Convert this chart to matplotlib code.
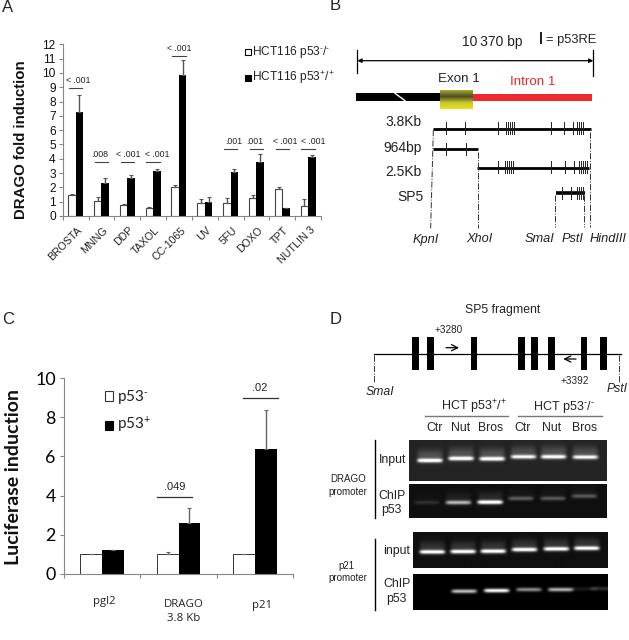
import numpy as np
from matplotlib import pyplot as plt
from matplotlib.patches import Rectangle
from matplotlib.colors import LinearSegmentedColormap
from matplotlib.transforms import blended_transform_factory

plt.rcParams['font.family'] = ['Liberation Sans', 'DejaVu Sans']
plt.rcParams['mathtext.fontset'] = 'custom'
plt.rcParams['mathtext.rm'] = 'Liberation Sans'
plt.rcParams['mathtext.it'] = 'Liberation Sans:italic'
plt.rcParams['mathtext.default'] = 'regular'

W, H = 629, 640

# panel A values
drugs = ['BROSTA', 'MNNG', 'DDP', 'TAXOL', 'CC-1065', 'UV', '5FU', 'DOXO', 'TPT', 'NUTLIN 3']
a_null = [1.5, 1.05, 0.8, 0.58, 2.0, 0.92, 0.92, 1.27, 1.92, 0.72]
a_null_err = [0.04, 0.25, 0.07, 0.06, 0.17, 0.25, 0.33, 0.2, 0.12, 0.5]
a_wt = [7.3, 2.3, 2.65, 3.15, 9.85, 1.0, 3.05, 3.8, 0.55, 4.1]
a_wt_err = [1.15, 0.35, 0.2, 0.15, 1.05, 0.35, 0.25, 0.5, 0.03, 0.17]
a_pvals = ['< .001', '.008', '< .001', '< .001', '< .001', '', '.001', '.001', '< .001', '< .001']
a_bracket = [8.92, 3.75, 3.75, 3.75, 11.18, None, 4.68, 4.68, 4.68, 4.68]
a_pval_nudge = [2, -1, 1, 3, 0, 0, 2, -1, 2, 4]

# panel C values
constructs = ['pgl2', 'DRAGO\n3.8 Kb', 'p21']
c_minus = [1, 1, 1]
c_minus_err = [0, 0.13, 0.03]
c_plus = [1.2, 2.6, 6.4]
c_plus_err = [0, 0.75, 2.0]
c_pvals = ['', '.049', '.02']
c_bracket = [None, 3.92, 8.97]
c_bracket_shift = [0, -0.05, 0.07]
c_label_shift = [2, 5, 7]
c_label_y = [-0.115, -0.13, -0.135]

# panel B p53RE sites, scale is pixels x3 of the crop
sites_38 = [347, 405, 503, 528, 535, 541, 547, 552, 662, 703, 728, 742, 748, 754, 760]
sites_964 = [349, 408]
sites_25 = [505, 525, 531, 537, 543, 549, 664, 706, 731, 747, 753, 759, 765, 770]
sites_sp5 = [697, 722, 742, 748, 754, 760]
sp5_boxes = [257, 302, 432, 575, 614, 664, 762, 820]

# gels: band centre x, band centre y, brightness
lanes_1 = [(300, 182, 0.9), (393, 176, 0.9), (486, 177, 0.9), (580, 171, 0.8), (670, 171, 0.85), (765, 172, 0.8)]
lanes_2 = [(290, 307, 0.12), (385, 307, 0.65), (480, 306, 1.0), (572, 295, 0.3), (668, 295, 0.28), (762, 288, 0.28)]
lanes_3 = [(305, 457, 0.95), (397, 456, 0.95), (487, 455, 0.95), (580, 450, 0.95), (675, 448, 0.95), (766, 446, 0.95)]
lanes_4 = [(400, 573, 0.75), (497, 571, 1.0), (593, 568, 0.55), (688, 568, 0.7), (760, 566, 0.1), (815, 565, 0.18)]


def px_axes(x0, y0, x1, y1):
    return fig.add_axes([x0 / W, 1 - y1 / H, (x1 - x0) / W, (y1 - y0) / H])


def style_axes(ax, n):
    ax.set_xlim(0, n)
    ax.set_xticks(range(n + 1))
    ax.set_xticklabels([])
    ax.spines['top'].set_visible(False)
    ax.spines['right'].set_visible(False)
    ax.spines['left'].set_color('#868686')
    ax.spines['bottom'].set_color('#868686')
    ax.tick_params(color='#868686', length=3)


fig = plt.figure(figsize=(W / 100, H / 100), dpi=100)

# A
ax = px_axes(62.7, 44.3, 321, 216)
x = np.arange(len(drugs)) + 0.5
bw = 0.29
err = dict(ecolor='#555555', elinewidth=1, capsize=1.2, capthick=0.8)
ax.bar(x - bw / 2, a_null, bw, color='white', edgecolor='#444444', linewidth=0.8,
       yerr=[np.zeros(10), a_null_err], error_kw=err)
ax.bar(x + bw / 2, a_wt, bw, color='black', yerr=[np.zeros(10), a_wt_err], error_kw=err)
style_axes(ax, len(drugs))
ax.set_ylim(0, 12)
ax.set_yticks(range(13))
ax.tick_params(axis='y', labelsize=8.6, pad=2, labelcolor='#111111')
for i in range(len(drugs)):
    ax.annotate(drugs[i], (x[i], 0), xytext=(1, -6.5), textcoords='offset points', rotation=45,
                ha='right', va='top', rotation_mode='anchor', fontsize=7.7, color='#222222')
    if a_bracket[i] is not None:
        ax.plot([x[i] - 0.26, x[i] + 0.26], [a_bracket[i]] * 2, c='#444444', lw=0.8)
        ax.annotate(a_pvals[i], (x[i], a_bracket[i]), xytext=(a_pval_nudge[i], 2.5), textcoords='offset points',
                    ha='center', va='bottom', fontsize=6.3, color='#222222')

# C
ax = px_axes(64, 378.3, 293, 573.7)
x = np.arange(len(constructs)) + 0.5
bw = 0.284
err = dict(ecolor='#666666', elinewidth=1, capsize=1.5, capthick=0.8)
ax.bar(x - bw / 2, c_minus, bw, color='white', edgecolor='#333333', linewidth=0.7,
       yerr=[np.zeros(3), c_minus_err], error_kw=err)
ax.bar(x + bw / 2, c_plus, bw, color='black', yerr=[np.zeros(3), c_plus_err], error_kw=err)
style_axes(ax, len(constructs))
ax.set_ylim(0, 10)
ax.set_yticks(range(0, 11, 2))
ax.tick_params(axis='y', labelsize=12.8, pad=3)
for t in ax.get_yticklabels():
    t.set_family('Lato')
trans = blended_transform_factory(ax.transData, ax.transAxes)
for i in range(len(constructs)):
    ax.annotate(constructs[i], (x[i], c_label_y[i]), xycoords=trans, xytext=(c_label_shift[i], 0),
                textcoords='offset pixels', ha='center', va='top', fontsize=8.2,
                family='Open Sans', color='#222222', linespacing=1.35)
    if c_bracket[i] is not None:
        xb = x[i] + c_bracket_shift[i]
        ax.plot([xb - 0.23, xb + 0.23], [c_bracket[i]] * 2, c='#333333', lw=0.9)
        ax.annotate(c_pvals[i], (xb, c_bracket[i]), xytext=(0, 4), textcoords='offset points',
                    ha='center', va='bottom', fontsize=8, color='#222222')

# everything else goes on one overlay in image pixels
ov = fig.add_axes([0, 0, 1, 1], zorder=5)
ov.patch.set_alpha(0)
ov.axis('off')

for lab, lx, ly in [('A', 2, 7), ('B', 330, 6), ('C', 2, 319), ('D', 330, 319)]:
    ov.text(lx, ly, lab, fontsize=12, ha='left', va='center', color='#222222')

ov.text(21.5, 140, 'DRAGO fold induction', rotation=90, fontweight='bold', fontsize=10.8, ha='center', va='center', color='#111111')
ov.text(14, 477, 'Luciferase induction', rotation=90, fontweight='bold', fontsize=14, ha='center', va='center',
        family='Lato', color='#111111')

# legends
minus = r'$^{\text{-}}$'
plus = r'$^{+}$'
ov.add_patch(Rectangle((245, 49), 5.5, 6, fc='white', ec='black', lw=0.8))
ov.add_patch(Rectangle((245, 75), 5.5, 5.5, fc='black', ec='black', lw=0.8))
ov.text(252, 52.5, 'HCT116 p53' + minus + '/' + minus, fontsize=8.6, va='center', color='#222222')
ov.text(252, 78, 'HCT116 p53' + plus + '/' + plus, fontsize=8.6, va='center', color='#222222')
ov.add_patch(Rectangle((105, 391), 7.5, 9.5, fc='white', ec='#333333', lw=0.8))
ov.add_patch(Rectangle((105, 421), 7.5, 9, fc='black', ec='black', lw=0.8))
ov.text(117, 396.5, 'p53' + minus, fontsize=11, va='center', family='Lato', color='#222222')
ov.text(117, 425, 'p53' + plus, fontsize=11, va='center', family='Lato', color='#222222')


# B, coordinates from the 3x crop
def bx(v):
    return 330 + v / 3


ov.annotate('', (bx(790), 60.7), (bx(82), 60.7), arrowprops=dict(arrowstyle='<|-|>', color='black', lw=0.9, mutation_scale=6, shrinkA=0, shrinkB=0))
ov.plot([bx(82)] * 2, [49.5, 72.5], c='black', lw=0.9)
ov.plot([bx(790)] * 2, [49.5, 76], c='black', lw=0.9)
ov.text(bx(488), 41.7, '10\u2009370 bp', fontsize=10, ha='center', va='center', color='#222222')
ov.add_patch(Rectangle((bx(629), 32), 2, 12, fc='#222222', ec='none'))
ov.text(bx(648), 40, '= p53RE', fontsize=9.3, ha='left', va='center', color='#222222')

ov.add_patch(Rectangle((bx(78), 93.3), (330 - 78) / 3, 7.4, fc='black', ec='none'))
ov.plot([bx(195), bx(225)], [93.3, 100.7], c='white', lw=1)
ov.add_patch(Rectangle((bx(427), 94), (785 - 427) / 3, 6.5, fc='#ee2a2e', ec='none'))
exon_cmap = LinearSegmentedColormap.from_list('exon', ['#a8a82a', '#4a4a28', '#c9c62a', '#e6e31f'])
ov.imshow(np.linspace(0, 1, 40).reshape(-1, 1), cmap=exon_cmap, aspect='auto', extent=(bx(330), bx(427), 109, 90), zorder=3)
ov.text(bx(387), 78.7, 'Exon 1', fontsize=9.6, ha='center', va='center', color='#222222')
ov.text(bx(607), 82, 'Intron 1', fontsize=9.6, ha='center', va='center', color='#e8262b')

fragments = [('3.8Kb', 275, 367, 310, 782, 386, sites_38, 367, 402),
             ('964bp', 275, 445, 310, 445, 448, sites_964, 430, 465),
             ('2.5Kb', 275, 517, 442, 778, 503, sites_25, 483, 520),
             ('SP5', 282, 592, 677, 765, 579, sites_sp5, 560, 597)]
for name, tx, ty, x0, x1, ly, sites, t0, t1 in fragments:
    ov.text(bx(tx), ty / 3, name, fontsize=10, ha='right', va='center', color='#222222')
    ov.plot([bx(x0), bx(x1)], [ly / 3, ly / 3], c='black', lw=2 if name != 'SP5' else 2.6, solid_capstyle='butt')
    for s in sites:
        ov.plot([bx(s), bx(s)], [t0 / 3, t1 / 3], c='#222222', lw=0.7)

for xa, ya, xb, yb in [(310, 390, 302, 685), (443, 455, 443, 685), (676, 585, 676, 680), (763, 585, 763, 680), (779, 395, 779, 680)]:
    ov.plot([bx(xa), bx(xb)], [ya / 3, yb / 3], c='#333333', lw=0.7, ls='-.')
for name, cx in [('KpnI', 287), ('XhoI', 447), ('SmaI', 628), ('PstI', 728), ('HindIII', 834)]:
    ov.text(bx(cx), 239.5, name, fontsize=9.2, style='italic', ha='center', va='center', color='#222222')

# D top scheme
ov.text(503, 310, 'SP5 fragment', fontsize=8.8, ha='center', va='center', color='#222222')
ov.plot([bx(133), bx(872)], [354, 354], c='black', lw=0.9)
for b in sp5_boxes:
    ov.add_patch(Rectangle((bx(b - 10), 337), 6.5, 32.7, fc='black', ec='none', zorder=3))
ov.annotate('', (bx(387), 347.7), (bx(348), 347.7), arrowprops=dict(arrowstyle='->', color='black', lw=0.9, mutation_scale=11, shrinkA=0, shrinkB=0))
ov.annotate('', (bx(700), 359), (bx(738), 359), arrowprops=dict(arrowstyle='->', color='black', lw=0.9, mutation_scale=11, shrinkA=0, shrinkB=0))
ov.text(bx(355), 329.7, '+3280', fontsize=7.2, ha='center', va='center', color='#222222')
ov.text(bx(733), 381.3, '+3392', fontsize=7.2, ha='center', va='center', color='#222222')
ov.plot([bx(133)] * 2, [355, 383], c='#333333', lw=0.7, ls='-.')
ov.plot([bx(868)] * 2, [355, 383], c='#333333', lw=0.7, ls='-.')
ov.text(bx(150), 392.3, 'SmaI', fontsize=8.8, style='italic', ha='center', va='center', color='#222222')
ov.text(bx(862), 388.5, 'PstI', fontsize=8.8, style='italic', ha='center', va='center', color='#222222')

ov.text(bx(433), 407, 'HCT p53' + plus + '/' + plus, fontsize=9, ha='center', va='center', color='#222222')
ov.text(bx(700), 407, 'HCT p53' + minus + '/' + minus, fontsize=9, ha='center', va='center', color='#222222')
ov.plot([bx(285), bx(535)], [416, 416], c='#777777', lw=1)
ov.plot([bx(565), bx(815)], [416, 416], c='#777777', lw=1)
for name, cx in zip(['Ctr', 'Nut', 'Bros', 'Ctr', 'Nut', 'Bros'], [315, 393, 483, 578, 666, 765]):
    ov.text(bx(cx), 428.3, name, fontsize=8.8, ha='center', va='center', color='#222222')


def gel(x0, y0, x1, y1, bg, lanes, halo):
    # all arguments in crop units (3x), y measured from y=400
    xs = np.arange(x0, x1, 1.5)
    ys = np.arange(y0, y1, 1.5)
    xx, yy = np.meshgrid(xs, ys)
    img = np.full(xx.shape, bg, dtype=float)
    for cx, cy, b in lanes:
        mask = np.exp(-((xx - cx) / 38) ** 8)
        img += b * mask * np.exp(-((yy - cy) / 6) ** 2)
        img += halo * b * mask * np.exp(-((yy - cy + 14) / 18) ** 2)
    ov.imshow(np.clip(img, 0, 1), cmap='gray', vmin=0, vmax=1, aspect='auto', zorder=2,
              extent=(bx(x0), bx(x1), 400 + y1 / 3, 400 + y0 / 3))


gel(238, 122, 830, 243, 0.14, lanes_1, 0.2)
gel(238, 253, 830, 353, 0.06, lanes_2, 0.1)
gel(248, 398, 830, 505, 0.06, lanes_3, 0.15)
gel(248, 522, 830, 630, 0.0, lanes_4, 0.0)

ov.plot([bx(136)] * 2, [400 + 120 / 3, 400 + 353 / 3], c='black', lw=1)
ov.plot([bx(136)] * 2, [400 + 418 / 3, 400 + 630 / 3], c='black', lw=1)
for txt, cx, cy in [('Input', 188, 181), ('ChIP', 187, 288), ('p53', 184, 329),
                    ('input', 200, 454), ('ChIP', 202, 553), ('p53', 198, 596)]:
    ov.text(bx(cx), 400 + cy / 3, txt, fontsize=8.8, ha='center', va='center', color='#222222')
for txt, cx, cy in [('DRAGO', 55, 238), ('promoter', 55, 275), ('p21', 48, 497), ('promoter', 55, 533)]:
    ov.text(bx(cx), 400 + cy / 3, txt, fontsize=7, ha='center', va='center', color='#222222')

ov.set_xlim(0, W)
ov.set_ylim(H, 0)

plt.savefig('out.png', dpi=100)
